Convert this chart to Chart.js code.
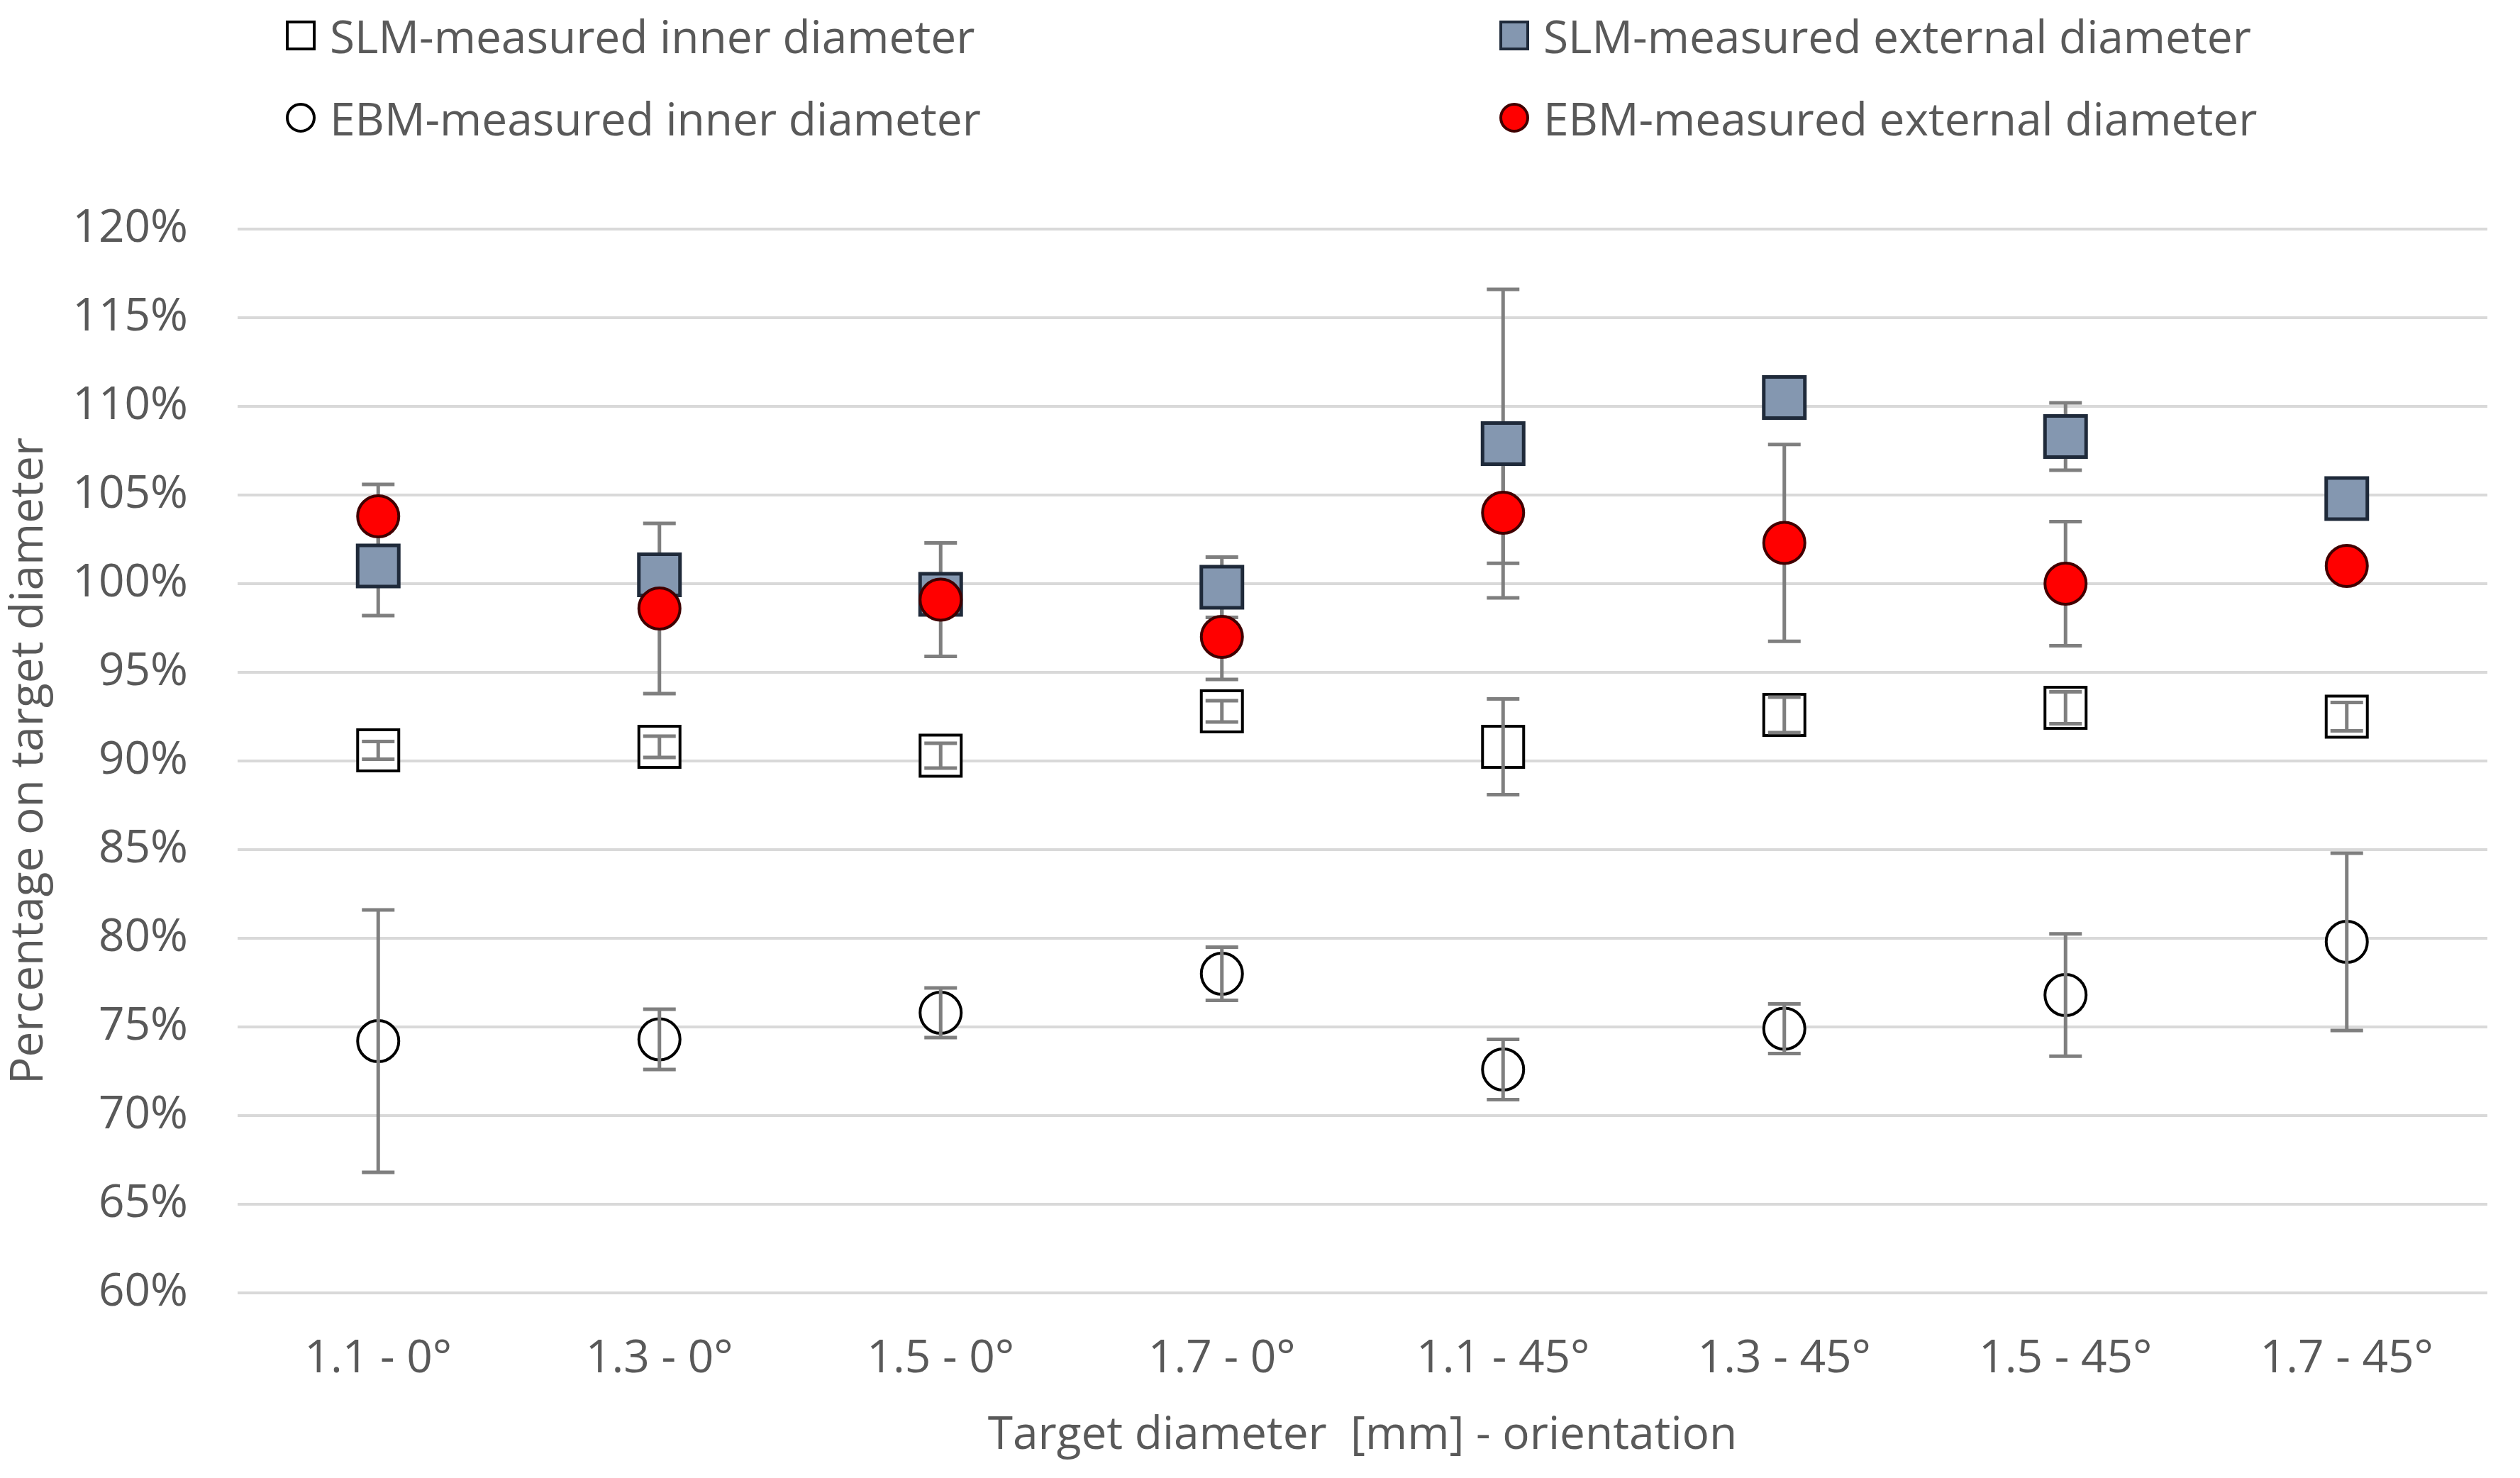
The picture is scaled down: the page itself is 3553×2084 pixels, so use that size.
<!DOCTYPE html>
<html lang="en">
<head>
    <meta charset="UTF-8">
    <title>Percentage on target diameter</title>
    <script src="https://cdn.jsdelivr.net/npm/chart.js"></script>
    <style>
        html, body { margin: 0; padding: 0; background: #fff; overflow: hidden; }
        #wrap { position: relative; width: 3553px; height: 2084px; }
        #grafico { display: block; }
        .leg { position: absolute; height: 80px; display: flex; align-items: center;
               font-family: "Open Sans", sans-serif; font-size: 64px; color: #595959; white-space: nowrap; }
        .mk { width: 34px; height: 34px; border: 4px solid #000; margin-right: 20px; background: #fff; }
        .mk.circ { border-radius: 50%; }
    </style>
</head>
<body>
<div id="wrap">
    <div class="leg" style="left:403px; top:10px;"><div class="mk"></div>SLM-measured inner diameter</div>
    <div class="leg" style="left:2114px; top:10px;"><div class="mk" style="background:#8497b0; border-color:#1f2a3a;"></div>SLM-measured external diameter</div>
    <div class="leg" style="left:403px; top:126px;"><div class="mk circ"></div>EBM-measured inner diameter</div>
    <div class="leg" style="left:2114px; top:126px;"><div class="mk circ" style="background:#ff0000; border-color:#400000;"></div>EBM-measured external diameter</div>
    <canvas id="grafico" width="3553" height="2084"></canvas>
</div>

<script>
    // categorias: diametro alvo [mm] - orientacao
    const categorias = ['1.1 - 0°', '1.3 - 0°', '1.5 - 0°', '1.7 - 0°', '1.1 - 45°', '1.3 - 45°', '1.5 - 45°', '1.7 - 45°'];

    // valores em % do diametro alvo
    const slmInterno = [90.6, 90.8, 90.3, 92.8, 90.8, 92.6, 93.0, 92.5];
    const slmInternoErro = [0.5, 0.6, 0.7, 0.6, 2.7, 1.0, 0.9, 0.8];

    const slmExterno = [101.0, 100.5, 99.4, 99.8, 107.9, 110.5, 108.3, 104.8];
    const slmExternoErro = [2.8, 0.8, 0.8, 1.7, 8.7, 0.5, 1.9, 0.5];

    const ebmInterno = [74.2, 74.3, 75.8, 78.0, 72.6, 74.9, 76.8, 79.8];
    const ebmInternoErro = [7.4, 1.7, 1.4, 1.5, 1.7, 1.4, 3.45, 5.0];

    const ebmExterno = [103.8, 98.6, 99.1, 97.0, 104.0, 102.3, 100.0, 101.0];
    const ebmExternoErro = [1.8, 4.8, 3.2, 2.4, 2.85, 5.55, 3.5, 0.5];

    const fonte = '"Open Sans", sans-serif';
    const cinza = '#595959';

    function desenharErros(chart, i) {
        const ds = chart.data.datasets[i];
        const meta = chart.getDatasetMeta(i);
        const y = chart.scales.y;
        const ctx = chart.ctx;
        ctx.save();
        ctx.strokeStyle = '#7f7f7f';
        ctx.lineWidth = 5;
        for (let j = 0; j < ds.data.length; j++) {
            const pt = meta.data[j];
            const e = ds.erros[j];
            const yTop = y.getPixelForValue(ds.data[j] + e);
            const yBot = y.getPixelForValue(ds.data[j] - e);
            ctx.beginPath();
            ctx.moveTo(pt.x, yTop);
            ctx.lineTo(pt.x, yBot);
            ctx.moveTo(pt.x - 23, yTop);
            ctx.lineTo(pt.x + 23, yTop);
            ctx.moveTo(pt.x - 23, yBot);
            ctx.lineTo(pt.x + 23, yBot);
            ctx.stroke();
        }
        ctx.restore();
    }

    const barrasErro = {
        id: 'barrasErro',
        beforeDatasetsDraw(chart) {
            chart.data.datasets.forEach((ds, i) => {
                if (!ds.erroPorCima) desenharErros(chart, i);
            });
        },
        afterDatasetDraw(chart, args) {
            if (chart.data.datasets[args.index].erroPorCima) desenharErros(chart, args.index);
        }
    };

    const dados = {
        labels: categorias,
        datasets: [
            {
                label: 'EBM-measured external diameter',
                data: ebmExterno, erros: ebmExternoErro, erroPorCima: false,
                pointStyle: 'circle', pointRadius: 29,
                backgroundColor: '#ff0000', borderColor: '#400000', borderWidth: 4,
                order: 0
            },
            {
                label: 'SLM-measured external diameter',
                data: slmExterno, erros: slmExternoErro, erroPorCima: false,
                pointStyle: 'rect', pointRadius: 41,
                backgroundColor: '#8497b0', borderColor: '#1f2a3a', borderWidth: 5,
                order: 1
            },
            {
                label: 'SLM-measured inner diameter',
                data: slmInterno, erros: slmInternoErro, erroPorCima: true,
                pointStyle: 'rect', pointRadius: 41,
                backgroundColor: '#ffffff', borderColor: '#000000', borderWidth: 4,
                order: 2
            },
            {
                label: 'EBM-measured inner diameter',
                data: ebmInterno, erros: ebmInternoErro, erroPorCima: true,
                pointStyle: 'circle', pointRadius: 29,
                backgroundColor: '#ffffff', borderColor: '#000000', borderWidth: 4,
                order: 3
            }
        ]
    };

    dados.datasets.forEach(ds => {
        ds.showLine = false;
        ds.pointHoverRadius = ds.pointRadius;
        ds.pointBorderWidth = ds.borderWidth;
        ds.pointBackgroundColor = ds.backgroundColor;
        ds.pointBorderColor = ds.borderColor;
    });

    const config = {
        type: 'line',
        data: dados,
        plugins: [barrasErro],
        options: {
            responsive: false,
            devicePixelRatio: 1,
            animation: false,
            layout: { padding: { top: 323, right: 25, left: 0, bottom: 0 } },
            plugins: {
                legend: { display: false },
                tooltip: { enabled: false }
            },
            scales: {
                x: {
                    offset: true,
                    grid: { display: false, drawTicks: false },
                    border: { display: false },
                    ticks: { color: cinza, font: { family: fonte, size: 64 }, padding: 55, maxRotation: 0 },
                    title: {
                        display: true, text: 'Target diameter  [mm] - orientation',
                        color: cinza, font: { family: fonte, size: 64 }, padding: { top: 0, bottom: 21 }
                    },
                    afterFit: (scale) => {
                        scale.height = 2084 - 1823;
                        scale.paddingLeft = 0;
                        scale.paddingRight = 0;
                    }
                },
                y: {
                    min: 60, max: 120,
                    grid: { color: '#d9d9d9', lineWidth: 4, drawTicks: false },
                    border: { display: false },
                    ticks: {
                        stepSize: 5, color: cinza, font: { family: fonte, size: 64 }, padding: 70,
                        callback: (v) => v + '%'
                    },
                    title: {
                        display: true, text: 'Percentage on target diameter',
                        color: cinza, font: { family: fonte, size: 64 }, padding: { top: 3, bottom: 0 }
                    },
                    afterFit: (scale) => { scale.width = 335; }
                }
            }
        }
    };

    let myChart = new Chart(document.getElementById('grafico'), config);
</script>
</body>
</html>
